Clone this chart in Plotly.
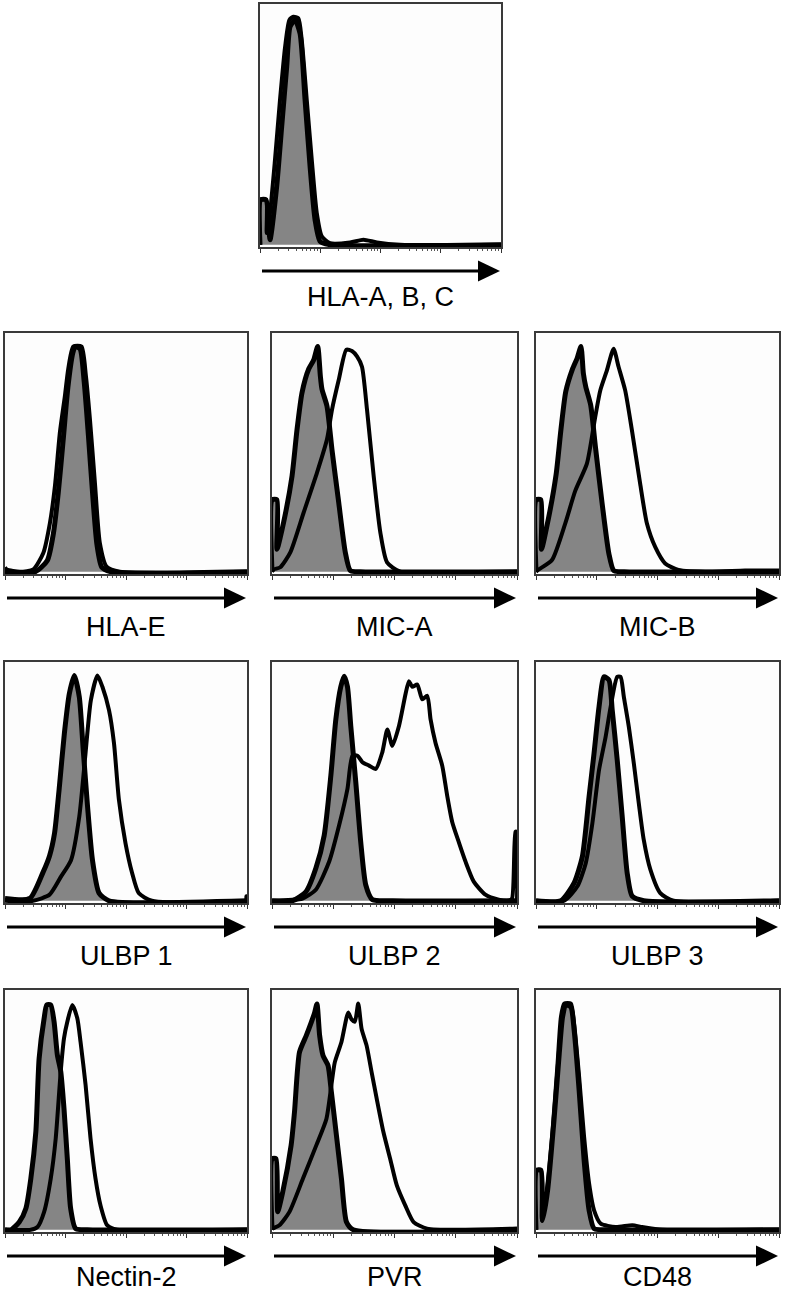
import math
import plotly.graph_objects as go

# ---------------- data: (log-decade position, % of max count) ----------------
PANEL_NAMES = ["HLA-A, B, C", "HLA-E", "MIC-A", "MIC-B", "ULBP 1", "ULBP 2", "ULBP 3",
               "Nectin-2", "PVR", "CD48"]

HLA_ABC_ISO = [(0,0),(0.011,19.8),(0.1,19.8),(0.166,2.2),(0.277,25.7),(0.36,52),(0.443,78.4),(0.499,96),
               (0.582,99),(0.665,93),(0.748,63.8),(0.831,34.5),(0.914,11),(0.997,1.5),(1.163,0),(4,0)]
HLA_ABC_STAIN = [(0,0),(0.011,19.8),(0.1,19.8),(0.111,5.2),(0.166,14),(0.249,37.4),(0.332,63.8),(0.416,87),
                 (0.488,99),(0.554,100.4),(0.637,99.7),(0.693,90),(0.776,63.8),(0.859,37.4),(0.942,14),
                 (1.025,3.7),(1.163,0.7),(1.496,1),(1.717,2.2),(1.939,1),(2.327,0),(4,0)]

HLA_E_ISO = [(0,0),(0.5,0),(0.7,5),(0.8,17),(0.88,35),(0.96,58),(1.04,82),(1.12,97),(1.16,100),(1.24,99),
             (1.31,84),(1.38,60),(1.45,34),(1.52,12),(1.6,2),(1.75,0),(4,0)]
HLA_E_STAIN = [(0,2),(0.03,1),(0.248,0),(0.468,1),(0.633,8.3),(0.743,21.7),(0.825,38),(0.908,62),(0.99,78),
               (1.045,90),(1.128,100),(1.265,100),(1.337,87),(1.403,68),(1.486,39.6),(1.568,12.7),(1.678,2.3),
               (1.898,0),(4,0)]

MICA_ISO = [(0,0),(0.005,32),(0.08,32),(0.082,10),(0.19,22),(0.327,42.5),(0.408,63),(0.49,79.5),(0.599,90),
            (0.68,94),(0.746,100),(0.789,87),(0.816,81),(0.898,73.5),(0.98,54),(1.088,31),(1.197,8.6),
            (1.279,0.5),(1.442,0),(4,0)]
MICA_STAIN = [(0,0),(0.027,1),(0.136,2),(0.299,8.6),(0.517,26.3),(0.735,44),(0.898,58.8),(0.98,72),(1.088,85),
              (1.214,98.6),(1.306,98),(1.388,95.6),(1.469,91),(1.551,72),(1.66,42.5),(1.769,17.4),(1.878,4.2),
              (2.095,0),(4,0)]

MICB_ISO = [(0,0),(0.005,32),(0.08,32),(0.09,10),(0.2,23),(0.33,43),(0.41,63),(0.49,80),(0.6,90),(0.68,95),
            (0.74,100),(0.78,88),(0.82,82),(0.9,74),(0.98,55),(1.09,30),(1.2,8),(1.28,0.5),(1.45,0),(4,0)]
MICB_STAIN = [(0,0),(0.044,1),(0.263,5.2),(0.482,21.5),(0.647,36),(0.838,48),(0.975,68.8),(1.058,80.5),
              (1.167,89.4),(1.277,99),(1.359,91),(1.468,80.5),(1.578,63),(1.715,39),(1.825,21.5),(1.962,11),
              (2.126,3.7),(2.345,0.8),(2.893,0),(3.44,0.5),(4,0.5)]

ULBP1_ISO = [(0,1),(0.409,1),(0.628,12.6),(0.737,20),(0.819,30),(0.9,51),(0.982,74.5),(1.064,92),(1.146,100),
             (1.228,90.5),(1.293,67),(1.364,42),(1.446,18),(1.555,3.4),(1.719,0),(4,0)]
ULBP1_STAIN = [(0,0),(0.464,0),(0.737,2.7),(0.928,10.8),(1.091,18),(1.228,37.4),(1.326,64),(1.419,89),
               (1.528,100),(1.61,95),(1.719,84.6),(1.801,70),(1.883,44.8),(1.992,25.5),(2.101,12.3),(2.21,3.4),
               (2.428,0),(3.98,0),(3.99,2),(4,0)]

ULBP2_ISO = [(0,0),(0.336,0),(0.554,4),(0.716,14.4),(0.852,29),(0.961,55.6),(1.042,80.5),(1.123,95),
             (1.178,99.7),(1.232,95),(1.286,77.6),(1.368,52.6),(1.449,26),(1.531,7),(1.639,0.5),(1.97,0),(4,0)]
ULBP2_STAIN = [(0,0),(0.499,1),(0.716,4.9),(0.934,17.4),(1.096,33.5),(1.232,49.7),(1.313,64.4),(1.395,64.4),
               (1.476,61.5),(1.585,60),(1.693,58.5),(1.802,66),(1.883,76),(1.965,68.8),(2.073,77.6),(2.182,92),
               (2.236,97.5),(2.29,95),(2.372,96),(2.453,89.4),(2.535,91),(2.589,80.5),(2.67,70),(2.779,60),
               (2.86,46.7),(2.942,35),(3.05,26),(3.159,17.4),(3.294,8.5),(3.484,2.7),(3.701,0.5),(3.864,0),
               (3.919,1),(3.973,30.6),(3.99,30.6),(4,0)]

ULBP3_ISO = [(0,0),(0.409,0),(0.628,7.9),(0.764,19.7),(0.873,46),(0.955,65.4),(1.037,86),(1.119,99.4),
             (1.201,98),(1.255,84.6),(1.337,62.5),(1.419,37.4),(1.501,12.3),(1.583,2),(1.774,0),(4,0)]
ULBP3_STAIN = [(0,0),(0.464,0),(0.682,6.4),(0.819,16.7),(0.928,34.4),(1.037,58),(1.146,72.8),(1.228,86),
               (1.337,99.4),(1.392,99.4),(1.446,90.5),(1.528,77.2),(1.61,61),(1.692,43.3),(1.774,27),
               (1.883,13.8),(2.046,3.4),(2.265,0),(4,0)]

NECTIN2_ISO = [(0,0),(0.099,0),(0.236,3.4),(0.345,9.4),(0.427,22.6),(0.51,43.3),(0.564,75.7),(0.647,93.5),
               (0.69,99.4),(0.756,99.4),(0.811,92),(0.866,77.2),(0.921,70),(0.975,53.6),(1.03,31.4),
               (1.085,9.4),(1.167,0.5),(1.359,0),(4,0)]
NECTIN2_STAIN = [(0,0),(0.427,0),(0.537,1.2),(0.647,7.9),(0.756,22.6),(0.838,40.3),(0.921,70),(0.975,84.6),
                 (1.03,92),(1.112,99.4),(1.195,93.5),(1.249,83),(1.332,64),(1.414,40.3),(1.496,22.6),
                 (1.578,10.8),(1.688,2),(1.852,0),(4,0)]

PVR_ISO = [(0,0),(0.005,31.4),(0.066,31.4),(0.093,8),(0.175,16.7),(0.312,37.3),(0.367,52),(0.449,78.5),
           (0.559,85.8),(0.641,91.7),(0.696,96),(0.734,99.8),(0.778,85.8),(0.833,77),(0.915,72.6),(0.97,60.8),
           (1.052,41.7),(1.134,22.5),(1.216,3.4),(1.326,0),(4,0)]
PVR_STAIN = [(0,0),(0.011,0.5),(0.121,2),(0.285,7.9),(0.504,22.5),(0.723,37.3),(0.888,49),(0.97,64),
             (1.025,74),(1.134,83),(1.244,96),(1.299,93),(1.353,92),(1.408,100),(1.463,88.8),(1.545,81.4),
             (1.627,69.6),(1.71,57.9),(1.819,43.2),(1.929,31.4),(2.038,19.6),(2.175,10.8),(2.312,3.4),
             (2.532,0.5),(4,0.5)]

CD48_ISO = [(0,0),(0.011,26.3),(0.082,26.3),(0.109,4.1),(0.191,17.4),(0.301,50),(0.383,78),(0.437,94),
            (0.492,99.4),(0.574,98.5),(0.628,88.2),(0.71,61.7),(0.792,30.8),(0.874,8.6),(0.956,0.5),(1.148,0),(4,0)]
CD48_STAIN = [(0,0),(0.011,26.3),(0.082,26.3),(0.098,4.1),(0.164,14.5),(0.273,44),(0.355,73.5),(0.41,94),
              (0.464,100),(0.574,100),(0.628,91),(0.71,67.6),(0.792,41),(0.874,20.4),(0.956,8.6),(1.066,2.7),
              (1.311,1.2),(1.585,2),(1.749,1.2),(2.077,0),(4,0)]

ISO_DATA = [HLA_ABC_ISO, HLA_E_ISO, MICA_ISO, MICB_ISO, ULBP1_ISO, ULBP2_ISO, ULBP3_ISO,
            NECTIN2_ISO, PVR_ISO, CD48_ISO]
STAIN_DATA = [HLA_ABC_STAIN, HLA_E_STAIN, MICA_STAIN, MICB_STAIN, ULBP1_STAIN, ULBP2_STAIN, ULBP3_STAIN,
              NECTIN2_STAIN, PVR_STAIN, CD48_STAIN]

DECADES = [0, 1, 2, 3, 4]

# ---------------- layout (pixel boxes) ----------------
W, H = 787, 1293
COLS = [(5, 247), (272, 517), (536, 779)]
ROWS = [(333, 574, 53), (662, 903, 53), (990, 1232, 45)]
BOXES = [(260, 501, 4, 247, 50)]
for (t, b, lab) in ROWS:
    for (l, r) in COLS:
        BOXES.append((l, r, t, b, lab))

minor_vals = [d + math.log10(k) for d in DECADES[:-1] for k in range(2, 10)]

fig = go.Figure()
shapes = []
annotations = []
FONT = "Liberation Sans, Arial, Helvetica, sans-serif"

for i, name in enumerate(PANEL_NAMES):
    n = i + 1
    l, r, t, b, lab = BOXES[i]
    xa = f"x{n}" if n > 1 else "x"
    ya = f"y{n}" if n > 1 else "y"
    iso = ISO_DATA[i]
    st = STAIN_DATA[i]
    fig.add_trace(go.Scatter(x=[p[0] for p in iso], y=[p[1] for p in iso], mode="lines",
                             fill="tozeroy", fillcolor="#858585",
                             line=dict(color="black", width=5, shape="spline", smoothing=0.6),
                             xaxis=xa, yaxis=ya, showlegend=False, hoverinfo="skip"))
    fig.add_trace(go.Scatter(x=[p[0] for p in st], y=[p[1] for p in st], mode="lines",
                             line=dict(color="black", width=4, shape="spline", smoothing=0.6),
                             xaxis=xa, yaxis=ya, showlegend=False, hoverinfo="skip"))
    xkey = "xaxis" if n == 1 else f"xaxis{n}"
    ykey = "yaxis" if n == 1 else f"yaxis{n}"
    fig.layout[xkey] = dict(domain=[l / W, r / W], range=[0, 4], anchor=ya,
                            showline=True, linecolor="#3a3a3a", linewidth=1.5, mirror=True,
                            showgrid=False, zeroline=False, ticks="outside",
                            tickvals=DECADES, ticklen=4, tickwidth=1, tickcolor="#333",
                            showticklabels=False, fixedrange=True,
                            minor=dict(ticks="outside", tickvals=minor_vals, ticklen=2,
                                       tickwidth=1, tickcolor="#555", showgrid=False))
    fig.layout[ykey] = dict(domain=[1 - b / H, 1 - t / H], range=[-1, 106], anchor=xa,
                            showline=True, linecolor="#3a3a3a", linewidth=1.5, mirror=True,
                            showgrid=False, zeroline=False, ticks="", showticklabels=False,
                            fixedrange=True)
    # arrow
    ay = 1 - (b + 24) / H
    shapes.append(dict(type="line", xref="paper", yref="paper",
                       x0=(l + 2) / W, x1=(r - 20) / W, y0=ay, y1=ay,
                       line=dict(color="black", width=3)))
    hx0 = (r - 23) / W
    hx1 = (r - 1) / W
    hh = 10.5 / H
    shapes.append(dict(type="path", xref="paper", yref="paper",
                       path=f"M {hx0},{ay + hh} L {hx1},{ay} L {hx0},{ay - hh} Z",
                       fillcolor="black", line=dict(color="black", width=0)))
    annotations.append(dict(text=name, xref="paper", yref="paper",
                            x=(l + r) / 2 / W, y=1 - (b + lab) / H,
                            xanchor="center", yanchor="middle", showarrow=False,
                            font=dict(family=FONT, size=27, color="black")))

fig.update_layout(width=W, height=H, margin=dict(l=0, r=0, t=0, b=0),
                  paper_bgcolor="white", plot_bgcolor="#fdfdfd",
                  shapes=shapes, annotations=annotations, showlegend=False)

fig.write_html("out.html", config={"displayModeBar": False},
               post_script="document.body.style.margin='0';document.body.style.padding='0';"
                           "document.documentElement.style.overflow='hidden';")
